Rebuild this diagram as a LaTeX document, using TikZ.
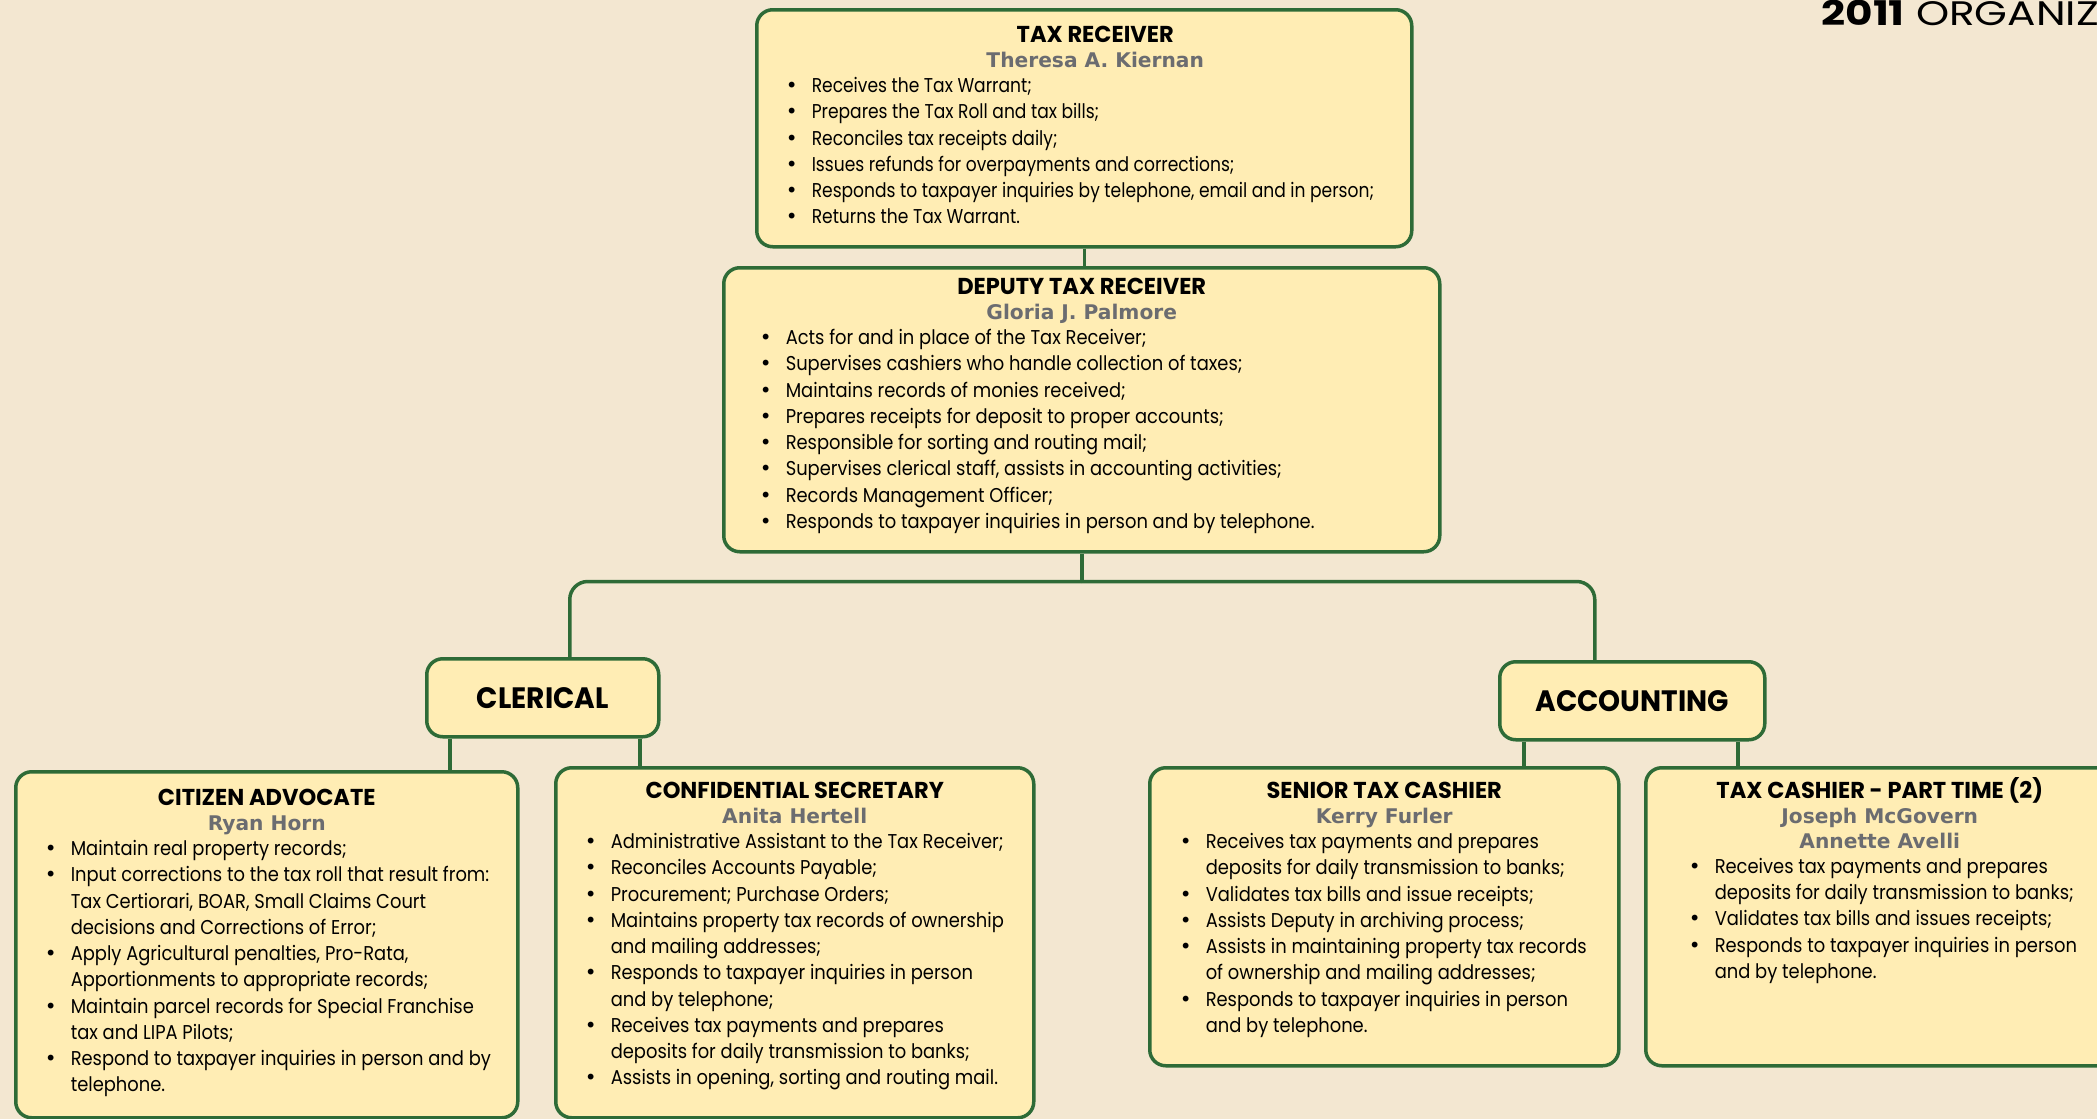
\documentclass[tikz,border=0pt]{standalone}
\usepackage{fontspec}
\setmainfont{Poppins}
\newfontfamily\cardfont{Poppins}[FakeStretch=0.895]
\newfontfamily\narrowfont{Poppins}[FakeStretch=0.855]
\newfontfamily\headfont{Poppins}[FakeStretch=0.98]
\newfontfamily\unitfont{Poppins}[FakeStretch=0.95]
\newfontfamily\bannerfont{Poppins}[FakeStretch=1.24]
\newfontfamily\namefont{DejaVu Sans}
\definecolor{pagebg}{HTML}{F3E7D1}
\definecolor{cardbg}{HTML}{FFEDB4}
\definecolor{cardline}{HTML}{2E6B37}
\definecolor{namegray}{HTML}{6B6C70}
\newcommand{\cardTitle}[2]{{\centering\headfont\bfseries\fontsize{23}{24.8}\selectfont\rule{0pt}{#1}#2\par}}
\newcommand{\cardName}[1]{{\centering\namefont\bfseries\fontsize{20.2}{24.8}\selectfont\leavevmode\color{namegray}#1\par}}
\newcommand{\cardList}[2]{\vspace{-1pt}\leftskip=#1\relax\rightskip=0pt plus 1fil\relax\parfillskip=0pt plus 1fil\relax\parindent=0pt#2\fontsize{20}{26.25}\selectfont}
\newcommand{\cardItem}[1]{\hangindent=26pt\hangafter=1\noindent\makebox[26pt][l]{\namefont\textbullet}#1\par}
\newcommand{\unitLabel}[1]{{\unitfont\bfseries\fontsize{29.5}{29.5}\selectfont #1}}

\begin{document}
\begin{tikzpicture}[x=1pt, y=-1pt]
  \tikzset{card/.style={draw=cardline, fill=cardbg, line width=3.5pt, rounded corners=16pt, inner sep=0pt, anchor=north west},
           unit/.style={card, minimum height=78pt},
           link/.style={draw=cardline, line width=3.5pt, rounded corners=18pt}}
  \fill[pagebg] (0,0) rectangle (2097,1119);
  \useasboundingbox (0,0) rectangle (2097,1119);
  \clip (0,0) rectangle (2097,1119);
  \node[anchor=base east, inner sep=0pt] (year) at (2099,25) {\bannerfont\fontsize{34}{34}\selectfont\textbf{2011} ORGANIZ};
  \node[card] (recv) at (755,8) {\parbox[t][237pt][t]{655pt}{%
      \cardTitle{32.7pt}{\hspace*{22pt}TAX RECEIVER}
      \cardName{\hspace*{22pt}Theresa A. Kiernan}
      \cardList{29pt}{\narrowfont}
      \cardItem{Receives the Tax Warrant;}
      \cardItem{Prepares the Tax Roll and tax bills;}
      \cardItem{Reconciles tax receipts daily;}
      \cardItem{Issues refunds for overpayments and corrections;}
      \cardItem{Responds to taxpayer inquiries by telephone, email and in person;}
      \cardItem{Returns the Tax Warrant.}}};
  \node[card] (dep) at (722,266) {\parbox[t][284pt][t]{716pt}{%
      \cardTitle{26.7pt}{DEPUTY TAX RECEIVER}
      \cardName{Gloria J. Palmore}
      \cardList{36pt}{\cardfont}
      \cardItem{Acts for and in place of the Tax Receiver;}
      \cardItem{Supervises cashiers who handle collection of taxes;}
      \cardItem{Maintains records of monies received;}
      \cardItem{Prepares receipts for deposit to proper accounts;}
      \cardItem{Responsible for sorting and routing mail;}
      \cardItem{Supervises clerical staff, assists in accounting activities;}
      \cardItem{Records Management Officer;}
      \cardItem{Responds to taxpayer inquiries in person and by telephone.}}};
  \node[unit, minimum width=232pt] (cler) at (425,657) {\unitLabel{CLERICAL}};
  \node[unit, minimum width=265pt] (acct) at (1498,660) {\unitLabel{ACCOUNTING}};
  \node[card] (cadv) at (14,770) {\parbox[t][346pt][t]{502pt}{%
      \cardTitle{33.7pt}{CITIZEN ADVOCATE}
      \cardName{Ryan Horn}
      \cardList{29pt}{\cardfont}
      \cardItem{Maintain real property records;}
      \cardItem{Input corrections to the tax roll that result from:\newline Tax Certiorari, BOAR, Small Claims Court\newline decisions and Corrections of Error;}
      \cardItem{Apply Agricultural penalties, Pro-Rata,\newline Apportionments to appropriate records;}
      \cardItem{Maintain parcel records for Special Franchise\newline tax and LIPA Pilots;}
      \cardItem{Respond to taxpayer inquiries in person and by\newline telephone.}}};
  \node[card] (csec) at (554,766) {\parbox[t][350pt][t]{478pt}{%
      \cardTitle{30.7pt}{CONFIDENTIAL SECRETARY}
      \cardName{Anita Hertell}
      \cardList{29pt}{\cardfont}
      \cardItem{Administrative Assistant to the Tax Receiver;}
      \cardItem{Reconciles Accounts Payable;}
      \cardItem{Procurement; Purchase Orders;}
      \cardItem{Maintains property tax records of ownership\newline and mailing addresses;}
      \cardItem{Responds to taxpayer inquiries in person\newline and by telephone;}
      \cardItem{Receives tax payments and prepares\newline deposits for daily transmission to banks;}
      \cardItem{Assists in opening, sorting and routing mail.}}};
  \node[card] (stc) at (1148,766) {\parbox[t][298pt][t]{469pt}{%
      \cardTitle{30.7pt}{SENIOR TAX CASHIER}
      \cardName{Kerry Furler}
      \cardList{30pt}{\cardfont}
      \cardItem{Receives tax payments and prepares\newline deposits for daily transmission to banks;}
      \cardItem{Validates tax bills and issue receipts;}
      \cardItem{Assists Deputy in archiving process;}
      \cardItem{Assists in maintaining property tax records\newline of ownership and mailing addresses;}
      \cardItem{Responds to taxpayer inquiries in person\newline and by telephone.}}};
  \node[card] (tcpt) at (1644,766) {\parbox[t][298pt][t]{468pt}{%
      \cardTitle{30.7pt}{TAX CASHIER - PART TIME (2)}
      \cardName{Joseph McGovern}
      \cardName{Annette Avelli}
      \cardList{43pt}{\cardfont}
      \cardItem{Receives tax payments and prepares\newline deposits for daily transmission to banks;}
      \cardItem{Validates tax bills and issues receipts;}
      \cardItem{Responds to taxpayer inquiries in person\newline and by telephone.}}};
  \coordinate (fork) at ([yshift=-28pt]dep.south);
  \draw[link] (recv.south) -- (recv.south |- dep.north);
  \draw[link] (dep.south) -- (fork);
  \draw[link] (fork) -| ([xshift=27pt]cler.north);
  \draw[link] (fork) -| ([xshift=-37.5pt]acct.north);
  \draw[link] ([xshift=-93pt]cler.south) -- ([xshift=-93pt]cler.south |- cadv.north);
  \draw[link] ([xshift=97pt]cler.south) -- ([xshift=97pt]cler.south |- csec.north);
  \draw[link] ([xshift=-108.5pt]acct.south) -- ([xshift=-108.5pt]acct.south |- stc.north);
  \draw[link] ([xshift=105.5pt]acct.south) -- ([xshift=105.5pt]acct.south |- tcpt.north);
\end{tikzpicture}
\end{document}
